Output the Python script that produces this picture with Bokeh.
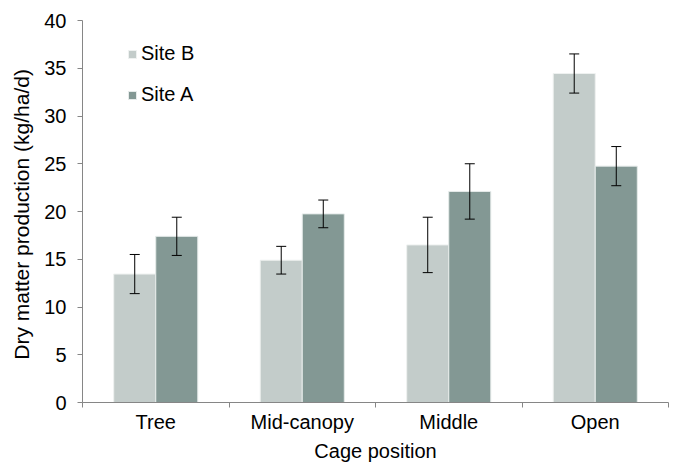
from bokeh.plotting import figure
from bokeh.models import ColumnDataSource, Whisker, TeeHead, FixedTicker, Legend, LegendItem, Range1d
from bokeh.embed import file_html
from bokeh.resources import INLINE

categories = ["Tree", "Mid-canopy", "Middle", "Open"]
site_b = [13.45, 14.9, 16.5, 34.45]
site_b_err = [2.05, 1.45, 2.9, 2.05]
site_a = [17.4, 19.75, 22.1, 24.75]
site_a_err = [2.0, 1.45, 2.9, 2.05]
y_ticks = [0, 5, 10, 15, 20, 25, 30, 35, 40]

FONT = "Liberation Sans"
LIGHT = "#C3CCCA"
DARK = "#839894"
BW = 0.287

centers = [i + 0.5 for i in range(len(categories))]
xb = [c - BW / 2 for c in centers]
xa = [c + BW / 2 for c in centers]

src_b = ColumnDataSource(dict(x=xb, top=site_b,
                              upper=[v + e for v, e in zip(site_b, site_b_err)],
                              lower=[v - e for v, e in zip(site_b, site_b_err)]))
src_a = ColumnDataSource(dict(x=xa, top=site_a,
                              upper=[v + e for v, e in zip(site_a, site_a_err)],
                              lower=[v - e for v, e in zip(site_a, site_a_err)]))

p = figure(frame_width=586, frame_height=382, output_backend="svg", toolbar_location=None,
           x_range=Range1d(0, len(categories)), y_range=Range1d(0, 40),
           min_border_left=82, min_border_top=20, min_border_right=5, min_border_bottom=10)
p.outline_line_color = None
p.grid.grid_line_color = None
p.background_fill_color = "white"

rb = p.vbar(x="x", top="top", width=BW, source=src_b, fill_color=LIGHT, line_color="#EEF1F0", line_width=1)
ra = p.vbar(x="x", top="top", width=BW, source=src_a, fill_color=DARK, line_color="#E6EBEA", line_width=1)

for s in (src_b, src_a):
    w = Whisker(base="x", upper="upper", lower="lower", source=s, line_color="black", line_width=1,
                level="overlay",
                upper_head=TeeHead(size=10, line_color="black", line_width=1),
                lower_head=TeeHead(size=10, line_color="black", line_width=1))
    p.add_layout(w)

# x axis
xa_ = p.xaxis[0]
xa_.ticker = FixedTicker(ticks=centers, minor_ticks=list(range(len(categories) + 1)))
xa_.major_label_overrides = {c: n for c, n in zip(centers, categories)}
xa_.major_tick_out = 0
xa_.major_tick_in = 0
xa_.minor_tick_out = 5
xa_.minor_tick_in = 0
xa_.minor_tick_line_color = "#868686"
xa_.axis_line_color = "#868686"
xa_.axis_label = "Cage position"
xa_.major_label_standoff = 3
xa_.axis_label_standoff = 4

ya_ = p.yaxis[0]
ya_.ticker = FixedTicker(ticks=y_ticks)
ya_.major_tick_out = 5
ya_.major_tick_in = 0
ya_.minor_tick_out = 0
ya_.minor_tick_in = 0
ya_.major_tick_line_color = "#868686"
ya_.axis_line_color = "#868686"
ya_.axis_label = "Dry matter production  (kg/ha/d)"
ya_.major_label_standoff = 11
ya_.axis_label_standoff = 8

for ax in (xa_, ya_):
    ax.major_label_text_font = FONT
    ax.major_label_text_font_size = "20px"
    ax.major_label_text_color = "black"
    ax.axis_label_text_font = FONT
    ax.axis_label_text_font_size = "20px"
    ax.axis_label_text_font_style = "normal"
    ax.axis_label_text_color = "black"
ya_.axis_label_text_font_size = "21px"

legend = Legend(items=[LegendItem(label="Site B", renderers=[rb]),
                       LegendItem(label="Site A", renderers=[ra])],
                location=(45, 296), padding=0, margin=0, spacing=18,
                glyph_width=10, glyph_height=10, label_standoff=4, label_height=23,
                label_text_font=FONT, label_text_font_size="20px", label_text_color="black",
                border_line_alpha=0, background_fill_alpha=0)
p.add_layout(legend)

open("out.html", "w").write(file_html(p, INLINE))
